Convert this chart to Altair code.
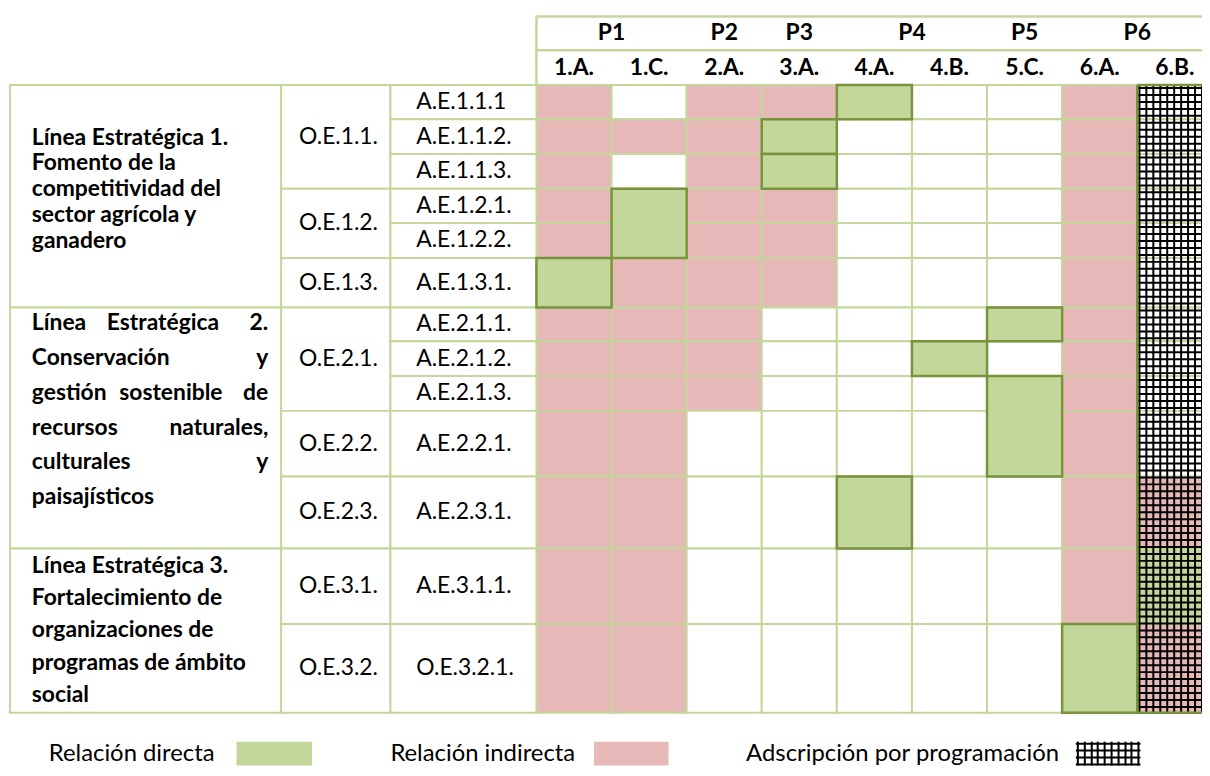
import altair as alt
import pandas as pd
import numpy as np

# ---------------- data ----------------
columns = ["1.A.", "1.C.", "2.A.", "3.A.", "4.A.", "4.B.", "5.C.", "6.A.", "6.B."]
priorities = ["P1", "P2", "P3", "P4", "P5", "P6"]
priority_members = [["1.A.", "1.C."], ["2.A."], ["3.A."], ["4.A.", "4.B."], ["5.C."], ["6.A.", "6.B."]]

actions = ["A.E.1.1.1", "A.E.1.1.2.", "A.E.1.1.3.", "A.E.1.2.1.", "A.E.1.2.2.", "A.E.1.3.1.",
           "A.E.2.1.1.", "A.E.2.1.2.", "A.E.2.1.3.", "A.E.2.2.1.", "A.E.2.3.1.",
           "A.E.3.1.1.", "O.E.3.2.1."]
objectives = ["O.E.1.1.", "O.E.1.2.", "O.E.1.3.", "O.E.2.1.", "O.E.2.2.", "O.E.2.3.", "O.E.3.1.", "O.E.3.2."]
objective_rows = [(0, 2), (3, 4), (5, 5), (6, 8), (9, 9), (10, 10), (11, 11), (12, 12)]

strategic_rows = [(0, 5), (6, 10), (11, 12)]
strategic_lines = [
    [["Línea Estratégica 1."], ["Fomento de la"], ["competitividad del"], ["sector agrícola y"], ["ganadero"]],
    [["Línea", "Estratégica", "2."], ["Conservación", "y"], ["gestión", "sostenible", "de"],
     ["recursos", "naturales,"], ["culturales", "y"], ["paisajísticos"]],
    [["Línea Estratégica 3."], ["Fortalecimiento de"], ["organizaciones de"], ["programas de ámbito"], ["social"]],
]

# D = relación directa, I = relación indirecta, - = sin relación (one char per column)
relations = [
    "I-IID--I-",
    "IIID---I-",
    "I-ID---I-",
    "IDII---I-",
    "IDII---I-",
    "DIII---I-",
    "III---DI-",
    "III--D-I-",
    "III---DI-",
    "II----DI-",
    "II--D--II",
    "II-----ID",
    "II-----DI",
]
programmed_column = "6.B."          # adscripción por programación (whole column)
merged_direct = [("1.C.", 3, 4), ("5.C.", 8, 9)]

legend_items = ["Relación directa", "Relación indirecta", "Adscripción por programación"]

# ---------------- layout / style ----------------
ROW_EDGES = [83, 117.5, 152.5, 187.5, 222, 257, 307, 341, 376, 411, 477, 549.5, 625.5, 715]
HEAD_EDGES = [14, 48, 83]
LEFT_EDGES = [10, 283, 393, 540]
COL_X0, COL_W = 540, 75.6
TXT_LEFT, TXT_RIGHT = 32, 270
STRAT_FIRST = [136, 323, 567]
STRAT_STEP = [26, 35, 32.5]
MID_WORD_X = {"Estratégica": 164, "sostenible": 172}
OBJ_X, ACT_X = 301, 419
LEG_TEXT_RIGHT = [216, 579, 1066]
LEG_SW = [(238, 314), (598, 673), (1085, 1146)]
LEG_Y = (744, 768)
LEG_TEXT_Y = 756

LIGHT = "#c4d79b"
DARK = "#77933c"
GREEN = "#c4d79b"
PINK = "#e6b8b7"
GREEN_LEG = "#d7e4bd"
FONT = "Lato"

XS = alt.Scale(domain=[8, 1210], nice=False, zero=False)
YS = alt.Scale(domain=[8, 776], nice=False, zero=False, reverse=True)


def col_x(j):
    return COL_X0 + j * COL_W


# ---------------- frames ----------------
cells = []
for i, rel in enumerate(relations):
    for j, code in enumerate(rel):
        cells.append(dict(x0=col_x(j), x1=col_x(j + 1), y0=ROW_EDGES[i], y1=ROW_EDGES[i + 1], kind=code))
cells = pd.DataFrame(cells)

left_cells = []
for (a, b) in strategic_rows:
    left_cells.append(dict(x0=LEFT_EDGES[0], x1=LEFT_EDGES[1], y0=ROW_EDGES[a], y1=ROW_EDGES[b + 1]))
for (a, b) in objective_rows:
    left_cells.append(dict(x0=LEFT_EDGES[1], x1=LEFT_EDGES[2], y0=ROW_EDGES[a], y1=ROW_EDGES[b + 1]))
for i in range(len(actions)):
    left_cells.append(dict(x0=LEFT_EDGES[2], x1=LEFT_EDGES[3], y0=ROW_EDGES[i], y1=ROW_EDGES[i + 1]))
left_cells = pd.DataFrame(left_cells)

# direct-relation boxes (dark outline), merged where the table merges cells
boxes = []
covered = set()
for (c, a, b) in merged_direct:
    j = columns.index(c)
    boxes.append(dict(x0=col_x(j), x1=col_x(j + 1), y0=ROW_EDGES[a], y1=ROW_EDGES[b + 1]))
    for r in range(a, b + 1):
        covered.add((r, j))
for i, rel in enumerate(relations):
    for j, code in enumerate(rel):
        if code == "D" and columns[j] != programmed_column and (i, j) not in covered:
            boxes.append(dict(x0=col_x(j), x1=col_x(j + 1), y0=ROW_EDGES[i], y1=ROW_EDGES[i + 1]))
boxes = pd.DataFrame(boxes)

# hatch pattern of the programmed column
jp = columns.index(programmed_column)
hx0, hx1 = col_x(jp), col_x(jp + 1)
hatch_v = pd.DataFrame(dict(x=np.arange(np.ceil(hx0) + 2, hx1, 7.0)))
hatch_v["y0"], hatch_v["y1"] = ROW_EDGES[0], ROW_EDGES[-1]
hatch_h = pd.DataFrame(dict(y=np.arange(ROW_EDGES[0] + 3, ROW_EDGES[-1] - 1, 7.0)))
hatch_h["x0"], hatch_h["x1"] = hx0, hx1

outline = pd.DataFrame([
    dict(x0=hx0, x1=hx0, y0=ROW_EDGES[0], y1=ROW_EDGES[-1]),
    dict(x0=hx0, x1=hx1, y0=ROW_EDGES[0], y1=ROW_EDGES[0]),
    dict(x0=hx0, x1=hx1, y0=ROW_EDGES[-1], y1=ROW_EDGES[-1]),
])
head_lines = pd.DataFrame([
    dict(x0=COL_X0, x1=col_x(len(columns)), y0=HEAD_EDGES[0], y1=HEAD_EDGES[0]),
    dict(x0=COL_X0, x1=col_x(len(columns)), y0=HEAD_EDGES[1], y1=HEAD_EDGES[1]),
    dict(x0=COL_X0, x1=COL_X0, y0=HEAD_EDGES[0], y1=HEAD_EDGES[2]),
])

# texts
bold_left, bold_center, bold_right, norm_left, norm_right = [], [], [], [], []
for k, p in enumerate(priorities):
    cx = np.mean([col_x(columns.index(c)) + COL_W / 2 for c in priority_members[k]])
    bold_center.append(dict(x=cx, y=(HEAD_EDGES[0] + HEAD_EDGES[1]) / 2, t=p))
for j, c in enumerate(columns):
    bold_center.append(dict(x=col_x(j) + COL_W / 2, y=(HEAD_EDGES[1] + HEAD_EDGES[2]) / 2, t=c))
for s, lines in enumerate(strategic_lines):
    for li, words in enumerate(lines):
        y = STRAT_FIRST[s] + li * STRAT_STEP[s]
        if len(words) == 1:
            bold_left.append(dict(x=TXT_LEFT, y=y, t=words[0]))
        else:
            bold_left.append(dict(x=TXT_LEFT, y=y, t=words[0]))
            bold_right.append(dict(x=TXT_RIGHT, y=y, t=words[-1]))
            for w in words[1:-1]:
                bold_center.append(dict(x=MID_WORD_X[w], y=y, t=w))
for o, (a, b) in zip(objectives, objective_rows):
    norm_left.append(dict(x=OBJ_X, y=(ROW_EDGES[a] + ROW_EDGES[b + 1]) / 2, t=o))
for i, a in enumerate(actions):
    norm_left.append(dict(x=ACT_X, y=(ROW_EDGES[i] + ROW_EDGES[i + 1]) / 2, t=a))
for k, lab in enumerate(legend_items):
    norm_right.append(dict(x=LEG_TEXT_RIGHT[k], y=LEG_TEXT_Y, t=lab))

legend_sw = pd.DataFrame([
    dict(x0=LEG_SW[0][0], x1=LEG_SW[0][1], y0=LEG_Y[0], y1=LEG_Y[1], kind="D"),
    dict(x0=LEG_SW[1][0], x1=LEG_SW[1][1], y0=LEG_Y[0], y1=LEG_Y[1], kind="I"),
])
lx0, lx1 = LEG_SW[2]
leg_hv = pd.DataFrame(dict(x=np.arange(lx0, lx1 + 1, 6.8).round()))
leg_hv["y0"], leg_hv["y1"] = LEG_Y
leg_hh = pd.DataFrame(dict(y=np.arange(LEG_Y[0] + 2, LEG_Y[1], 7.0)))
leg_hh["x0"], leg_hh["x1"] = lx0 - 2, lx1 + 2


# ---------------- chart ----------------
def X(f="x0"):
    return alt.X(f"{f}:Q", scale=XS, axis=None)


def Y(f="y0"):
    return alt.Y(f"{f}:Q", scale=YS, axis=None)


fill_scale = alt.Scale(domain=["D", "I", "-"], range=[GREEN, PINK, "#ffffff"])

l_cells = alt.Chart(cells).mark_rect(stroke=LIGHT, strokeWidth=2, clip=True).encode(
    x=X(), x2="x1:Q", y=Y(), y2="y1:Q", fill=alt.Fill("kind:N", scale=fill_scale, legend=None))
l_left = alt.Chart(left_cells).mark_rect(stroke=LIGHT, strokeWidth=2, fill="white").encode(
    x=X(), x2="x1:Q", y=Y(), y2="y1:Q")
l_boxes = alt.Chart(boxes).mark_rect(stroke=DARK, strokeWidth=2.5, fill=GREEN).encode(
    x=X(), x2="x1:Q", y=Y(), y2="y1:Q")
l_hv = alt.Chart(hatch_v).mark_rule(color="black", strokeWidth=2, clip=True).encode(
    x=X("x"), y=Y(), y2="y1:Q")
l_hh = alt.Chart(hatch_h).mark_rule(color="black", strokeWidth=2, clip=True).encode(
    y=Y("y"), x=X(), x2="x1:Q")
l_outline = alt.Chart(outline).mark_rule(color=DARK, strokeWidth=2.5, clip=True).encode(
    x=X(), x2="x1:Q", y=Y(), y2="y1:Q")
l_head = alt.Chart(head_lines).mark_rule(color=LIGHT, strokeWidth=2.5, clip=True).encode(
    x=X(), x2="x1:Q", y=Y(), y2="y1:Q")


def text_layer(rows, align, weight, size):
    return alt.Chart(pd.DataFrame(rows)).mark_text(
        align=align, baseline="middle", font=FONT, fontSize=size, fontWeight=weight, color="black"
    ).encode(x=X("x"), y=Y("y"), text="t:N")


l_bl = text_layer(bold_left, "left", "bold", 23)
l_bc = text_layer(bold_center, "center", "bold", 23)
l_br = text_layer(bold_right, "right", "bold", 23)
l_nl = text_layer(norm_left, "left", "normal", 23)
l_nr = text_layer(norm_right, "right", "normal", 24)

l_legsw = alt.Chart(legend_sw).mark_rect().encode(
    x=X(), x2="x1:Q", y=Y(), y2="y1:Q",
    fill=alt.Fill("kind:N", scale=alt.Scale(domain=["D", "I"], range=[GREEN_LEG, PINK]), legend=None))
l_leghv = alt.Chart(leg_hv).mark_rule(color="black", strokeWidth=2).encode(x=X("x"), y=Y(), y2="y1:Q")
l_leghh = alt.Chart(leg_hh).mark_rule(color="black", strokeWidth=2, clip=True).encode(y=Y("y"), x=X(), x2="x1:Q")

chart = alt.layer(
    l_cells, l_left, l_boxes, l_hv, l_hh, l_outline, l_head,
    l_bl, l_bc, l_br, l_nl, l_nr, l_legsw, l_leghv, l_leghh
).properties(
    width=1202, height=768, padding=0, autosize="none", background="white"
).configure_view(strokeWidth=0)

chart.save("out.html", embed_options={"renderer": "svg", "actions": False})
